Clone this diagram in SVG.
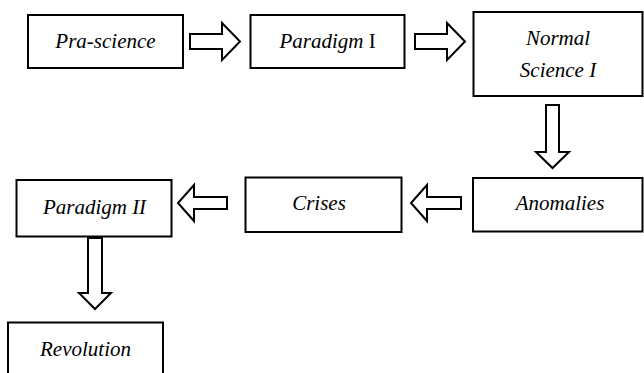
<svg xmlns="http://www.w3.org/2000/svg" width="644" height="373" viewBox="0 0 644 373">
<defs>
<style>
.box{fill:#fff;stroke:#000;stroke-width:2}
.arr{fill:#fff;stroke:#000;stroke-width:2;stroke-linejoin:miter}
text{font-family:'Liberation Serif','DejaVu Serif',serif;font-size:21px;font-style:italic;fill:#000;text-anchor:middle}
.up{font-style:normal}
</style>
</defs>
<rect width="644" height="373" fill="#fff"/>
<g id="connectors">
<polygon class="arr" points="190,34 222,34 222,23 240,41.5 222,60 222,49 190,49"/>
<polygon class="arr" points="415,34 447,34 447,23 465,41.5 447,60 447,49 415,49"/>
<polygon class="arr" points="546,105 559,105 559,152 569,152 552.5,168 536,152 546,152"/>
<polygon class="arr" points="461,197 427,197 427,185 411,203 427,221 427,209 461,209"/>
<polygon class="arr" points="227,197 194,197 194,185 178,203 194,221 194,209 227,209"/>
<polygon class="arr" points="88,238 102,238 102,293 111,293 95,309 79,293 88,293"/>
</g>
<g id="pra-science">
<rect class="box" x="28" y="15" width="155" height="53"/>
<text x="105.5" y="48" font-family="Liberation Serif">Pra-science</text>
</g>
<g id="paradigm-1">
<rect class="box" x="250.5" y="15" width="154" height="53"/>
<text x="327.5" y="48" font-family="Liberation Serif">Paradigm<tspan class="up"> I</tspan></text>
</g>
<g id="normal-science-1">
<rect class="box" x="473.5" y="12" width="169" height="84"/>
<text x="558" y="45" font-family="Liberation Serif">Normal</text>
<text x="558" y="77" font-family="Liberation Serif">Science I</text>
</g>
<g id="anomalies">
<rect class="box" x="473" y="178" width="169.5" height="53.5"/>
<text x="560" y="210" font-family="Liberation Serif">Anomalies</text>
</g>
<g id="crises">
<rect class="box" x="245.5" y="177.5" width="156" height="54.5"/>
<text x="319" y="210" font-family="Liberation Serif">Crises</text>
</g>
<g id="paradigm-2">
<rect class="box" x="16.5" y="180" width="155" height="56.5"/>
<text x="94.5" y="214" font-family="Liberation Serif">Paradigm II</text>
</g>
<g id="revolution">
<rect class="box" x="8" y="322.5" width="155" height="60"/>
<text x="85.5" y="356" font-family="Liberation Serif">Revolution</text>
</g>
</svg>
